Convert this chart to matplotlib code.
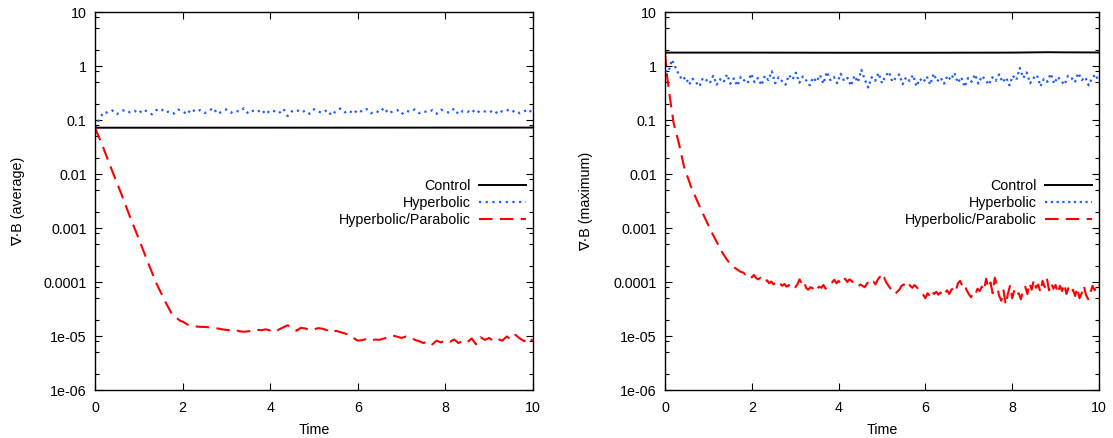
import numpy as np
import matplotlib
matplotlib.use('Agg')
import matplotlib.pyplot as plt
from matplotlib.ticker import FixedLocator, NullFormatter


plt.rcParams['font.family'] = ['Liberation Sans', 'DejaVu Sans']
plt.rcParams['font.size'] = 10.3

# ---- data ----
X_TICKS = [0, 2, 4, 6, 8, 10]
Y_TICKS = [1e-6, 1e-5, 1e-4, 1e-3, 1e-2, 1e-1, 1, 10]
Y_TICK_LABELS = ['1e-06', '1e-05', '0.0001', '0.001', '0.01', '0.1', '1', '10']
LEGEND_LABELS = ['Control', 'Hyperbolic', 'Hyperbolic/Parabolic']

# average panel
ctrl_avg_t = [0, 2, 4, 6, 8, 10]
ctrl_avg = [0.0720, 0.0720, 0.0721, 0.0722, 0.0723, 0.0724]

hyp_avg = [0.072, 0.105, 0.142, 0.135, 0.15, 0.128, 0.146, 0.155, 0.138, 0.149,
           0.132, 0.158, 0.141, 0.127, 0.152, 0.163, 0.137, 0.145, 0.131, 0.156,
           0.148, 0.126, 0.161, 0.14, 0.153, 0.134, 0.147, 0.168, 0.129, 0.144,
           0.157, 0.136, 0.15, 0.142, 0.165, 0.131, 0.148, 0.139, 0.158, 0.127,
           0.152, 0.145, 0.133, 0.162, 0.118, 0.146, 0.155, 0.137, 0.149, 0.13,
           0.159, 0.143, 0.135, 0.154, 0.121, 0.147, 0.163, 0.138, 0.151, 0.129,
           0.156, 0.142, 0.16, 0.133, 0.148, 0.137, 0.17, 0.131, 0.145, 0.153,
           0.128, 0.149, 0.141, 0.157, 0.134, 0.146, 0.139, 0.152, 0.13, 0.155,
           0.143, 0.136, 0.164, 0.127, 0.148, 0.14, 0.158, 0.132, 0.15, 0.144,
           0.137, 0.153, 0.129, 0.147, 0.156, 0.138, 0.151, 0.133, 0.145, 0.159,
           0.128]

hp_avg_head_t = [0, 0.18, 0.4, 0.6, 0.8, 1.0, 1.2, 1.4, 1.6, 1.75, 1.85, 1.95]
hp_avg_head = [0.072, 0.032, 0.011, 0.0043, 0.0016, 6.3e-4, 2.4e-4, 9.5e-5,
               4.4e-5, 2.6e-5, 2.2e-5, 1.9e-5]
# t = 2.0 .. 10.0, step 0.1, in units of 1e-5
hp_avg_tail = [1.85, 1.65, 1.52, 1.5, 1.48, 1.47, 1.45, 1.42, 1.38, 1.33,
               1.3, 1.26, 1.3, 1.22, 1.2, 1.22, 1.26, 1.3, 1.28, 1.33,
               1.26, 1.18, 1.32, 1.45, 1.58, 1.42, 1.25, 1.42, 1.38, 1.3,
               1.33, 1.4, 1.36, 1.28, 1.16, 1.25, 1.18, 1.12, 1.05, 0.92,
               0.82, 0.84, 0.88, 0.82, 0.86, 0.85, 0.9, 0.95, 1.02, 0.97,
               0.92, 0.98, 0.95, 0.85, 0.8, 0.74, 0.8, 0.7, 0.82, 0.76,
               0.84, 0.78, 0.86, 0.74, 0.82, 0.77, 0.9, 0.7, 0.95, 0.85,
               0.92, 0.8, 0.88, 0.82, 0.98, 0.86, 1.05, 0.9, 0.8, 0.95,
               0.8]

# maximum panel
ctrl_max_t = [0, 2, 4, 6, 8, 8.8, 9.2, 10]
ctrl_max = [1.77, 1.77, 1.76, 1.76, 1.77, 1.8, 1.79, 1.78]

hyp_max = [0.82, 0.78, 1.3, 0.95, 0.7, 0.55, 0.62, 0.45, 0.58, 0.5,
           0.42, 0.6, 0.55, 0.48, 0.66, 0.45, 0.57, 0.5, 0.7, 0.47,
           0.59, 0.43, 0.63, 0.54, 0.48, 0.72, 0.5, 0.6, 0.44, 0.66,
           0.55, 0.8, 0.48, 0.62, 0.52, 0.45, 0.68, 0.56, 0.75, 0.49,
           0.64, 0.54, 0.44, 0.61, 0.51, 0.68, 0.47, 0.78, 0.55, 0.63,
           0.48, 0.72, 0.53, 0.6, 0.43, 0.66, 0.5, 0.85, 0.56, 0.4,
           0.62, 0.53, 0.74, 0.48, 0.65, 0.78, 0.51, 0.6, 0.7, 0.46,
           0.62, 0.53, 0.68, 0.42, 0.58, 0.5, 0.64, 0.45, 0.72, 0.52,
           0.61, 0.47, 0.66, 0.55, 0.75, 0.49, 0.62, 0.41, 0.6, 0.51,
           0.7, 0.47, 0.65, 0.56, 0.45, 0.62, 0.53, 0.7, 0.5, 0.61,
           0.44, 0.66, 0.55, 0.92, 0.6, 0.76, 0.48, 0.6, 0.68, 0.42,
           0.58, 0.51, 0.72, 0.47, 0.63, 0.53, 0.45, 0.66, 0.6, 0.5,
           0.74, 0.55, 0.62, 0.44, 0.6, 0.7, 0.5]

hp_max_head_t = [0, 0.05, 0.11, 0.2, 0.32, 0.44, 0.6, 0.84, 1.09, 1.33, 1.49, 1.62, 1.74]
hp_max_head = [1.77, 0.63, 0.27, 0.086, 0.037, 0.0135, 0.0058, 0.0021, 7.9e-4,
               3.4e-4, 2.2e-4, 1.8e-4, 1.55e-4]
# t = 1.8 .. 10.0, step 0.05, in units of 1e-4
hp_max_tail = [1.5, 1.38, 1.45, 1.3, 1.22, 1.35, 1.18, 1.12, 1.2, 1.05,
               1.0, 1.08, 0.95, 1.02, 0.9, 0.98, 0.88, 0.94, 0.85, 0.92,
               0.82, 0.88, 0.78, 0.86, 0.8, 0.9, 1.12, 0.95, 1.05, 0.78,
               0.72, 0.8, 0.76, 0.85, 0.74, 0.82, 0.78, 0.88, 0.75, 0.84,
               0.9, 0.98, 1.1, 0.95, 1.05, 0.92, 1.02, 1.15, 1.0, 1.12,
               1.05, 0.95, 0.88, 0.82, 0.9, 0.85, 0.8, 0.92, 1.05, 0.95,
               1.02, 0.9, 1.1, 1.25, 1.05, 1.2, 0.98, 0.85, 0.75, 0.68,
               0.6, 0.66, 0.72, 0.85, 0.9, 0.82, 0.95, 0.85, 0.78, 0.88,
               0.8, 0.72, 0.65, 0.58, 0.5, 0.62, 0.55, 0.68, 0.6, 0.66,
               0.58, 0.64, 0.55, 0.62, 0.7, 0.6, 0.72, 0.78, 0.68, 0.95,
               1.05, 0.85, 0.92, 0.7, 0.6, 0.52, 0.62, 0.58, 0.75, 0.68,
               0.82, 0.7, 1.15, 0.78, 0.98, 0.62, 1.2, 0.85, 0.55, 0.45,
               0.7, 0.38, 0.6, 0.85, 0.5, 0.72, 0.58, 0.62, 0.48, 0.7,
               0.82, 0.6, 0.95, 0.72, 1.1, 0.78, 0.9, 0.65, 1.05, 0.8,
               1.15, 0.7, 0.95, 0.75, 0.88, 0.62, 0.85, 0.68, 0.92, 0.6,
               0.8, 0.65, 0.72, 0.55, 0.78, 0.5, 0.62, 0.85, 0.58, 0.48,
               0.62, 0.85, 0.7, 0.95, 0.88]


BLUE = '#1f5bff'
RED = '#ff0000'


def style_axes(ax, ylabel, ylabel_x):
    ax.set_yscale('log')
    ax.set_xlim(0, 10)
    ax.set_ylim(1e-6, 10)
    ax.xaxis.set_major_locator(FixedLocator(X_TICKS))
    ax.yaxis.set_major_locator(FixedLocator(Y_TICKS))
    ax.set_yticklabels(Y_TICK_LABELS)
    ax.yaxis.set_minor_locator(matplotlib.ticker.LogLocator(base=10, subs=(2, 5, 8)))
    ax.yaxis.set_minor_formatter(NullFormatter())
    ax.tick_params(which='both', direction='in', top=True, right=True, width=0.8)
    ax.tick_params(which='major', length=5)
    ax.tick_params(which='minor', length=3)
    ax.tick_params(axis='x', pad=8)
    ax.tick_params(axis='y', pad=6)
    for sp in ax.spines.values():
        sp.set_linewidth(1.0)
    ax.set_xlabel('Time')
    ax.xaxis.set_label_coords(0.5, -0.088)
    ax.set_ylabel(ylabel)
    ax.yaxis.set_label_coords(ylabel_x, 0.5)
    ax.legend(LEGEND_LABELS, loc='center right', bbox_to_anchor=(0.985, 0.495),
              frameon=False, markerfirst=False, handlelength=3.3,
              handletextpad=0.6, labelspacing=0.2, borderpad=0, borderaxespad=0)


fig = plt.figure(figsize=(11.13, 4.38), dpi=100)
ax1 = fig.add_axes([95 / 1113, 48 / 438, 438 / 1113, 378 / 438])
ax2 = fig.add_axes([665 / 1113, 48 / 438, 434 / 1113, 378 / 438])

hyp_avg_t = np.linspace(0, 10, len(hyp_avg))
hp_avg_t = np.concatenate([hp_avg_head_t, np.linspace(2, 10, len(hp_avg_tail))])
hp_avg_v = np.concatenate([hp_avg_head, np.array(hp_avg_tail) * 1e-5])

ax1.plot(ctrl_avg_t, ctrl_avg, color='black', linewidth=1.4)
ax1.plot(hyp_avg_t, hyp_avg, color=BLUE, linewidth=1.6, linestyle=(0, (1, 2.0)))
ax1.plot(hp_avg_t, hp_avg_v, color=RED, linewidth=1.5, linestyle=(0, (6.5, 3.5)))
style_axes(ax1, '∇·B (average)', -0.16)

hyp_max_t = np.linspace(0, 10, len(hyp_max))
hp_max_t = np.concatenate([hp_max_head_t, np.linspace(1.8, 10, len(hp_max_tail))])
hp_max_v = np.concatenate([hp_max_head, np.array(hp_max_tail) * 1e-4])

ax2.plot(ctrl_max_t, ctrl_max, color='black', linewidth=1.4)
ax2.plot(hyp_max_t, hyp_max, color=BLUE, linewidth=1.6, linestyle=(0, (1, 1.6)))
ax2.plot(hp_max_t, hp_max_v, color=RED, linewidth=1.5, linestyle=(0, (6.5, 3.5)))
style_axes(ax2, '∇·B (maximum)', -0.166)

plt.savefig('out.png', dpi=100)
plt.close()
